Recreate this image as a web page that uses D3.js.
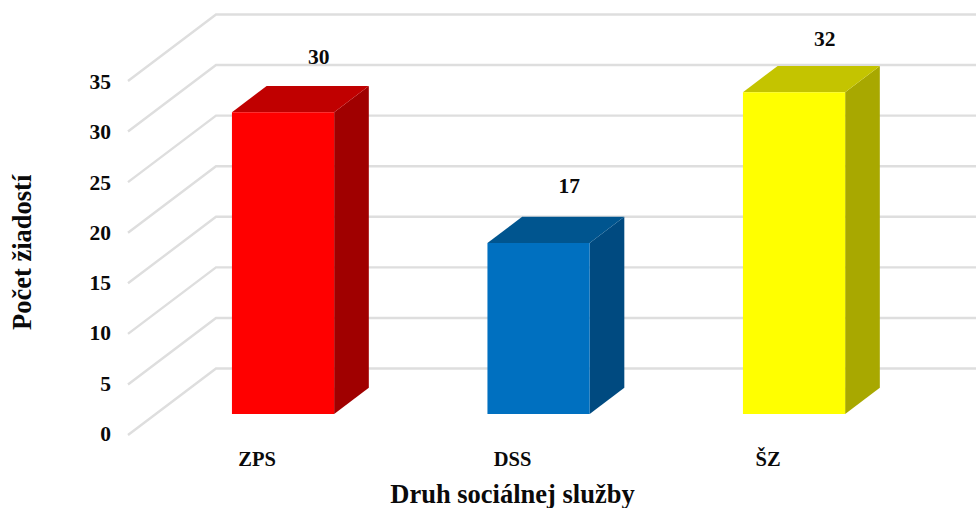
<!DOCTYPE html>
<html><head><meta charset="utf-8">
<script src="https://cdn.jsdelivr.net/npm/d3@7/dist/d3.min.js"></script>
<style>html,body{margin:0;padding:0;background:#fff}svg{display:block}text{font-family:"Liberation Serif",serif;font-weight:bold;fill:#0a0a0a}</style>
</head><body><svg id="c" width="976" height="508"></svg>
<script>
const categories=["ZPS","DSS","ŠZ"];
const values=[30,17,32];
const frontColors=["#ff0000","#0070c0","#ffff00"];
const topColors=["#c00000","#00558f","#c4c400"];
const sideColors=["#a00000","#004a80","#a8a800"];
const yTicks=[0,5,10,15,20,25,30,35];
const yAxisTitle="Počet žiadostí";
const xAxisTitle="Druh sociálnej služby";

const svg=d3.select("#c");
const frontX=128,backX=216,frontY0=435,backY0=368.5;
const depthX=backX-frontX,depthY=frontY0-backY0;
const yGrid=d3.scaleLinear().domain([0,35]).range([0,354]);
const y=d3.scaleLinear().domain([0,35]).range([0,352]);
const barNear=0.316,barFar=0.71;
const x=d3.scaleBand().domain(categories).range([155.3,921.8]).paddingInner(0.6).paddingOuter(0.3);
const px=(d,v,xp)=>[xp+d*depthX,frontY0-d*depthY-y(v)];
const gridPt=(d,t)=>[frontX+d*depthX,frontY0-d*depthY-yGrid(t)];

const grid=svg.append("g").attr("fill","none").attr("stroke","#dedede").attr("stroke-width",2.4);
grid.selectAll("path").data(yTicks).join("path")
 .attr("d",t=>d3.line()([gridPt(0,t),gridPt(1,t),[976,gridPt(1,t)[1]]]));

svg.append("g").selectAll("text").data(yTicks).join("text")
 .attr("x",111).attr("y",t=>441-y(t)).attr("text-anchor","end")
 .attr("font-size",21.5).text(t=>t);

const poly=a=>a.map(p=>p.join(",")).join(" ");
const labelShift=[[1,-22],[-4,-24],[-4,-19.5]];
svg.append("g").selectAll("g").data(categories).join("g").each(function(c,i){
  const g=d3.select(this),l=x(c),r=l+x.bandwidth(),v=values[i];
  const x0=l-barNear*depthX,x1=r-barNear*depthX;
  g.append("polygon").attr("fill",sideColors[i]).attr("points",poly([px(barNear,0,x1),px(barFar,0,x1),px(barFar,v,x1),px(barNear,v,x1)]));
  g.append("polygon").attr("fill",topColors[i]).attr("points",poly([px(barNear,v,x0),px(barNear,v,x1),px(barFar,v,x1),px(barFar,v,x0)]));
  g.append("polygon").attr("fill",frontColors[i]).attr("points",poly([px(barNear,0,x0),px(barNear,0,x1),px(barNear,v,x1),px(barNear,v,x0)]));
  const t=px(barFar,v,x0+x.bandwidth()/2);
  g.append("text").attr("x",t[0]+labelShift[i][0]).attr("y",t[1]+labelShift[i][1]).attr("text-anchor","middle").attr("font-size",21.5).text(v);
  g.append("text").attr("x",l+x.bandwidth()/2-26).attr("y",466).attr("text-anchor","middle").attr("font-size",20.5).text(c);
});

svg.append("text").attr("x",512.5).attr("y",503).attr("text-anchor","middle").attr("font-size",26.5).text(xAxisTitle);
svg.append("text").attr("transform","translate(31,330) rotate(-90)").attr("text-anchor","start").attr("font-size",26.5).text(yAxisTitle);
</script></body></html>
